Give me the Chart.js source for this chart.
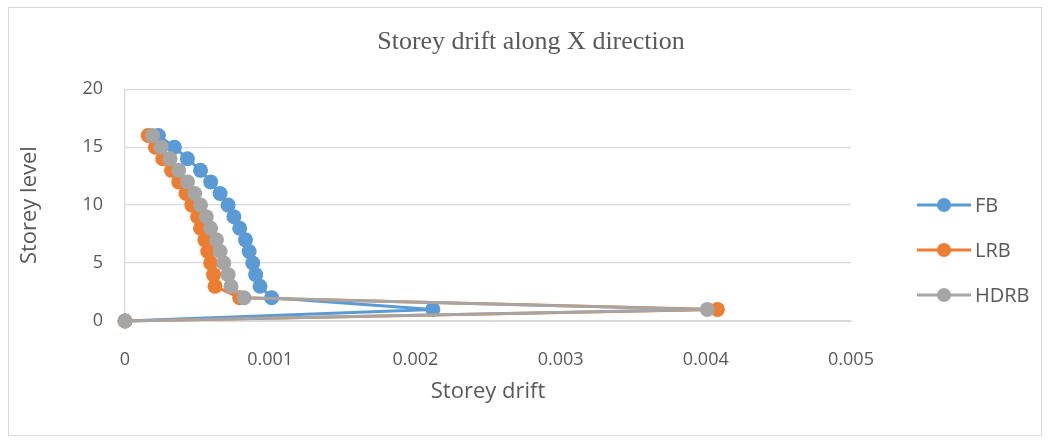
<!DOCTYPE html>
<html>
<head>
<meta charset="utf-8">
<script src="https://cdn.jsdelivr.net/npm/chart.js@4/dist/chart.umd.min.js"></script>
<style>
  html, body { margin: 0; padding: 0; background: #fff; }
  #wrap { width: 1050px; height: 441px; }
</style>
</head>
<body>
<div id="wrap"><canvas id="drift-chart" width="1050" height="441"></canvas></div>
<script>
// storey levels and drift values per isolation system
var levels = [0, 1, 2, 3, 4, 5, 6, 7, 8, 9, 10, 11, 12, 13, 14, 15, 16];
var fbDrift = [0, 0.00212, 0.00101, 0.00093, 0.00090, 0.00088, 0.000855, 0.00083, 0.00079, 0.00075, 0.00071, 0.000655, 0.00059, 0.00052, 0.00043, 0.00034, 0.00023];
var lrbDrift = [0, 0.00408, 0.00079, 0.00062, 0.00061, 0.00059, 0.00057, 0.00055, 0.00052, 0.00050, 0.00046, 0.00042, 0.00037, 0.00032, 0.00026, 0.00021, 0.00016];
var hdrbDrift = [0, 0.00401, 0.00082, 0.00073, 0.00071, 0.00068, 0.000655, 0.00063, 0.00059, 0.00056, 0.00052, 0.00048, 0.00043, 0.00037, 0.00031, 0.00025, 0.00019];

var seriesNames = ['FB', 'LRB', 'HDRB'];
var seriesColors = ['#5B9BD5', '#ED7D31', '#A5A5A5'];
var xTicks = [0, 0.001, 0.002, 0.003, 0.004, 0.005];
var yTicks = [0, 5, 10, 15, 20];

var textColor = '#595959';
var gridColor = '#D9D9D9';

function toPoints(drift) {
    return drift.map(function(d, i) { return { x: d, y: levels[i] }; });
}

var driftSets = [fbDrift, lrbDrift, hdrbDrift];
var datasets = driftSets.map(function(drift, i) {
    return {
        label: seriesNames[i],
        data: toPoints(drift),
        showLine: true,
        clip: false,
        borderColor: seriesColors[i],
        backgroundColor: seriesColors[i],
        borderWidth: 3,
        pointRadius: 7.5,
        pointHoverRadius: 7.5,
        pointBorderWidth: 0,
        order: driftSets.length - i
    };
});

// white background + thin frame around the chart
var framePlugin = {
    id: 'frame',
    beforeDraw: function(chart) {
        var ctx = chart.ctx;
        ctx.save();
        ctx.fillStyle = '#fff';
        ctx.fillRect(0, 0, chart.width, chart.height);
        ctx.strokeStyle = gridColor;
        ctx.lineWidth = 1;
        ctx.strokeRect(8.5, 7.5, chart.width - 17, chart.height - 13);
        ctx.restore();
    }
};

// legend with a line + marker sample for each series
var lineLegend = {
    id: 'lineLegend',
    afterDraw: function(chart) {
        var ctx = chart.ctx;
        var x0 = chart.chartArea.right + 66;
        var y0 = 205;
        ctx.save();
        ctx.font = '20px "Open Sans"';
        ctx.textBaseline = 'middle';
        ctx.textAlign = 'left';
        seriesNames.forEach(function(name, i) {
            var y = y0 + i * 45;
            ctx.strokeStyle = seriesColors[i];
            ctx.lineWidth = 3;
            ctx.beginPath();
            ctx.moveTo(x0, y);
            ctx.lineTo(x0 + 54, y);
            ctx.stroke();
            ctx.fillStyle = seriesColors[i];
            ctx.beginPath();
            ctx.arc(x0 + 27, y, 7, 0, Math.PI * 2);
            ctx.fill();
            ctx.fillStyle = textColor;
            ctx.fillText(name, x0 + 58, y + 1);
        });
        ctx.restore();
    }
};

var ctx = document.getElementById('drift-chart').getContext('2d');
new Chart(ctx, {
    type: 'scatter',
    data: { datasets: datasets },
    options: {
        responsive: false,
        animation: false,
        devicePixelRatio: 1,
        layout: { padding: { left: 12, right: 0, top: 0, bottom: 0 } },
        plugins: {
            legend: { display: false },
            tooltip: { enabled: false },
            title: {
                display: true,
                text: 'Storey drift along X direction',
                color: textColor,
                font: { family: 'Liberation Serif', size: 26, weight: 'normal' },
                padding: { top: 27, bottom: 31 }
            }
        },
        scales: {
            x: {
                type: 'linear',
                min: 0,
                max: 0.005,
                afterBuildTicks: function(scale) {
                    scale.ticks = xTicks.map(function(v) { return { value: v }; });
                },
                afterFit: function(scale) { scale.height = 120; },
                grid: { display: false },
                border: { display: true, color: gridColor, width: 1 },
                ticks: {
                    color: textColor,
                    font: { family: 'Open Sans', size: 18 },
                    padding: 20,
                    maxRotation: 0,
                    callback: function(v) { return String(+v.toFixed(3)); }
                },
                title: {
                    display: true,
                    text: 'Storey drift',
                    color: textColor,
                    font: { family: 'Open Sans', size: 22 },
                    padding: { top: 0, bottom: 36 }
                }
            },
            y: {
                type: 'linear',
                min: 0,
                max: 20,
                afterBuildTicks: function(scale) {
                    scale.ticks = yTicks.map(function(v) { return { value: v }; });
                },
                afterFit: function(scale) { scale.width = 113; },
                grid: { color: gridColor, lineWidth: 1.3, drawTicks: false },
                border: { display: true, color: gridColor, width: 1.3 },
                ticks: {
                    color: textColor,
                    font: { family: 'Open Sans', size: 18 },
                    padding: 22
                },
                title: {
                    display: true,
                    text: 'Storey level',
                    color: textColor,
                    font: { family: 'Open Sans', size: 22 },
                    padding: { top: 5, bottom: 0 }
                }
            },
            // empty right axis reserving the legend column
            yLegend: {
                type: 'linear',
                position: 'right',
                display: true,
                grid: { display: false },
                border: { display: false },
                ticks: { display: false },
                afterFit: function(scale) { scale.width = 199; }
            }
        }
    },
    plugins: [framePlugin, lineLegend]
});
</script>
</body>
</html>
